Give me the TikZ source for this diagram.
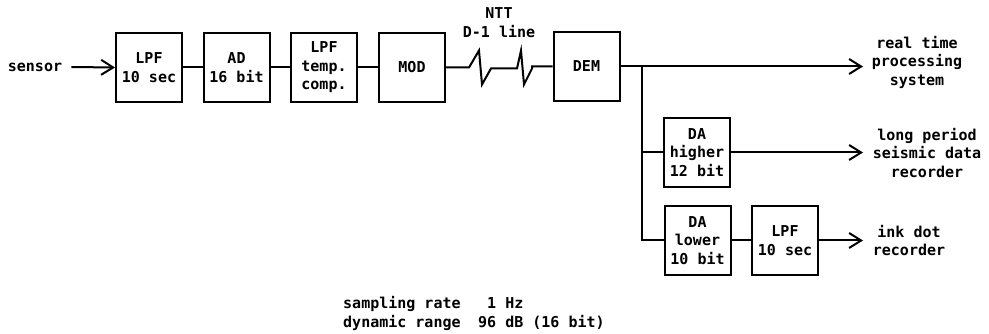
\documentclass[tikz,border=0pt]{standalone}
\usepackage{fontspec}
\setmainfont{DejaVu Sans Mono}
\usetikzlibrary{arrows.meta}
\begin{document}
\begin{tikzpicture}[x=1pt,y=-1pt,
  every node/.style={font=\fontsize{15}{18.5}\selectfont\bfseries},
  blk/.style={draw, line width=2pt, minimum width=66pt, minimum height=69pt, align=center, inner sep=0pt},
  wire/.style={line width=2pt},
  arr/.style={wire, -{Straight Barb[length=12pt,width=15pt,line width=2pt]}},
  lbl/.style={align=center, inner sep=0pt}]
\useasboundingbox (0,0) rectangle (989,334);
% main chain
\node[lbl] (sensor) at (35,67) {sensor};
\node[blk] (lpf1) at (149,67.5) {LPF\\10 sec};
\node[blk] (ad) at (236.5,67.5) {AD\\16 bit};
\node[blk] (lpftc) at (324,67.5) {LPF\\temp.\\comp.};
\node[blk] (mod) at (412,67.5) {MOD};
\node[blk] (dem) at (586.5,66.5) {DEM};
\node[lbl] (ntt) at (499,22.5) {NTT\\D-1 line};
\draw[arr] ([xshift=9pt]sensor.east) -- (lpf1.west);
\draw[wire] (lpf1) -- (ad);
\draw[wire] (ad) -- (lpftc);
\draw[wire] (lpftc) -- (mod);
\draw[wire, line join=miter] (mod.east) -- ++(23,0) -- ++(10,-17) -- ++(3,34) -- ++(9,-16) -- ++(26,0)
  -- ++(4,-18) -- ++(3,34) -- ++(8,-16) |- (dem.west);
% outputs
\node[lbl] (rt) at (917,62) {real time\\processing\\system};
\coordinate (rtin) at (863,66.5);
\draw[arr] (dem.east) -- (rtin);
\node[blk] (dah) at (697,152.5) {DA\\higher\\12 bit};
\node[blk] (dal) at (697.5,240.5) {DA\\lower\\10 bit};
\node[blk] (lpf2) at (785,240.5) {LPF\\10 sec};
\coordinate (br) at (642,66.5);
\draw[wire] (br) |- (dal.west);
\draw[wire] (br |- dah.west) -- (dah.west);
\draw[wire] (dal) -- (lpf2);
\node[lbl] (lp) at (927,153) {long period\\seismic data\\recorder};
\coordinate (lpin) at (863,152.5);
\draw[arr] (dah.east) -- (lpin);
\node[lbl] (ink) at (909,240.5) {ink dot\\recorder};
\coordinate (inkin) at (863,240.5);
\draw[arr] (lpf2.east) -- (inkin);
% bottom notes
\node[lbl, align=left, anchor=west] (sr) at (343,313.5) {sampling rate\\dynamic range};
\node[lbl, align=left, anchor=west] (val) at (478,313.5) {\phantom{9}1 Hz\\96 dB (16 bit)};
\end{tikzpicture}
\end{document}
